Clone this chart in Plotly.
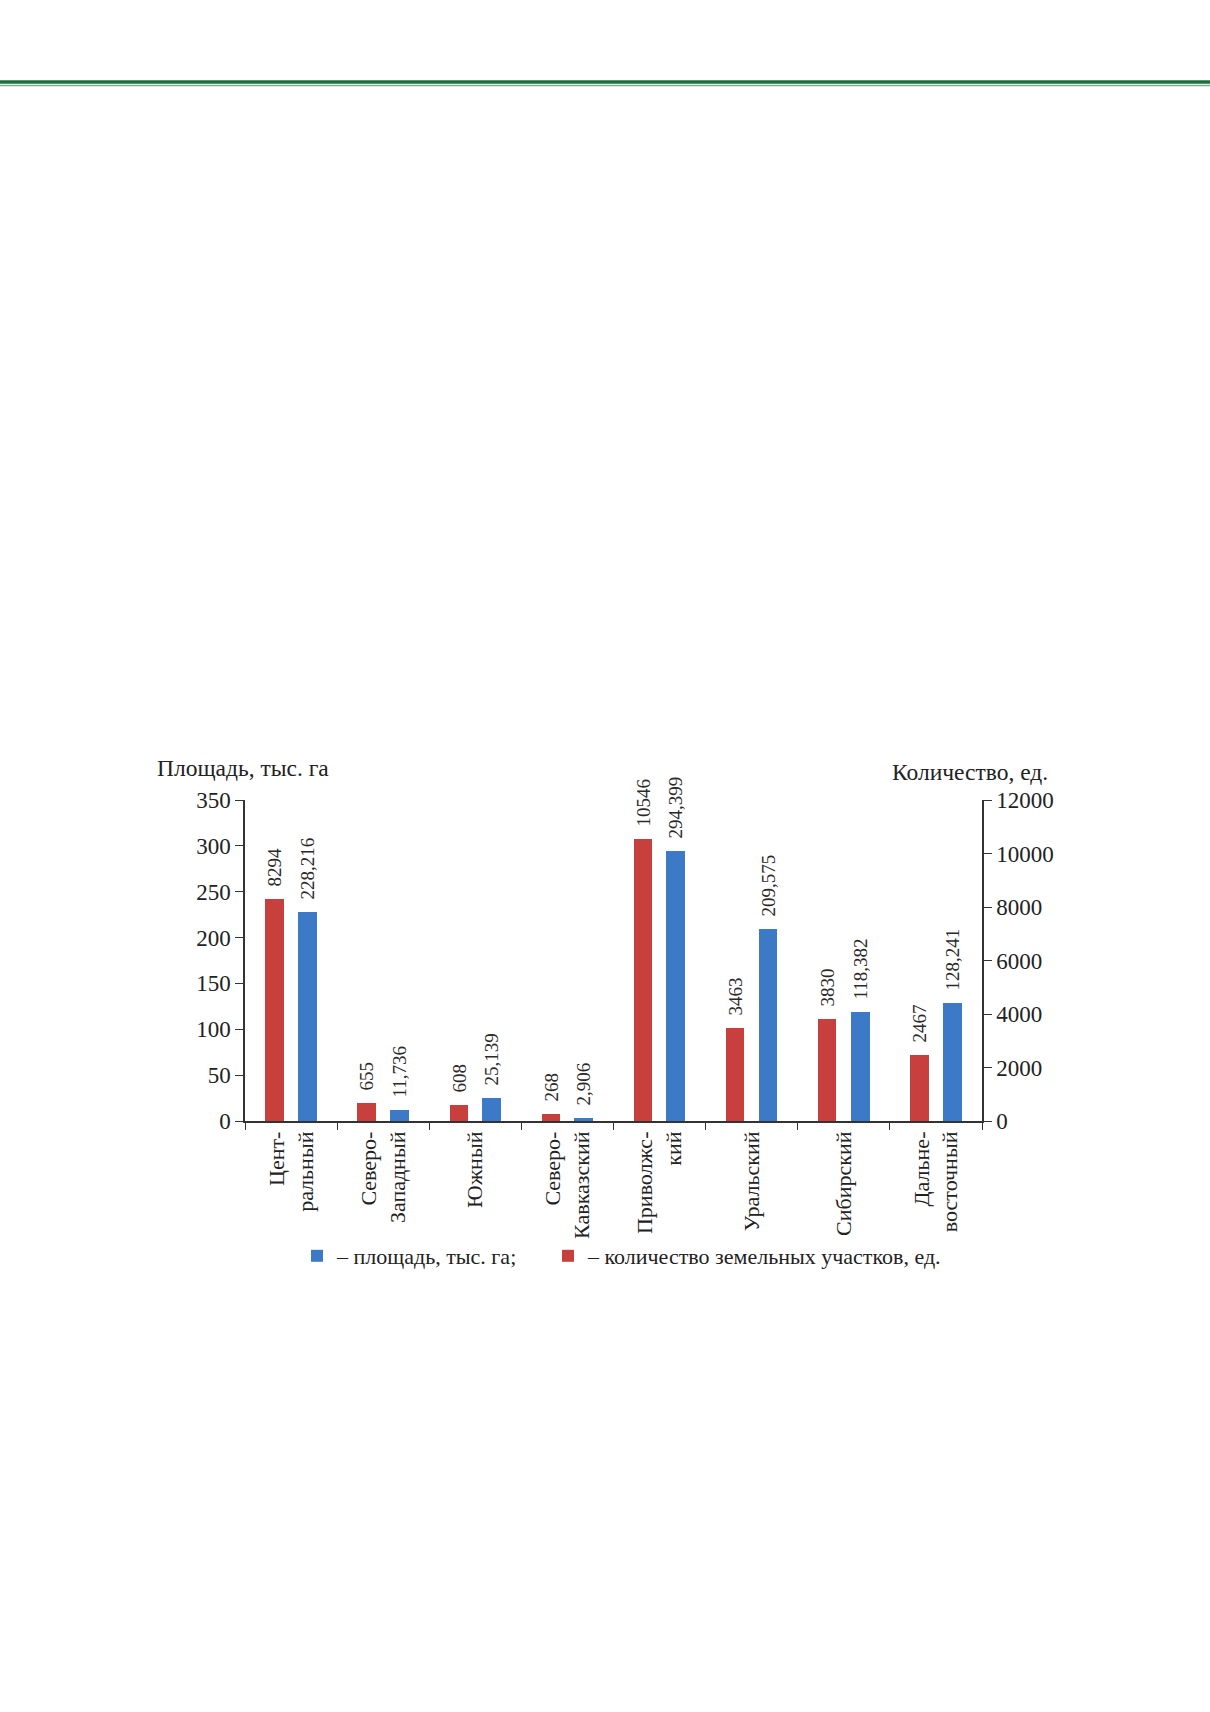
import plotly.graph_objects as go

categories = ["Цент-<br>ральный", "Северо-<br>Западный", "Южный", "Северо-<br>Кавказский",
              "Приволжс-<br>кий", "Уральский", "Сибирский", "Дальне-<br>восточный"]
area_thous_ha = [228.216, 11.736, 25.139, 2.906, 294.399, 209.575, 118.382, 128.241]
plot_count = [8294, 655, 608, 268, 10546, 3463, 3830, 2467]
left_ticks = [0, 50, 100, 150, 200, 250, 300, 350]
right_ticks = [0, 2000, 4000, 6000, 8000, 10000, 12000]

W, H = 1210, 1712
L, R, T, B = 245, 982, 800, 1121


def px_x(x):
    return (x - L) / (R - L)


def px_y(y):
    return (B - y) / (B - T)


FONT = "Liberation Serif, Times New Roman, serif"
RED = "#C8403E"
BLUE = "#3C79C6"
AXC = "#333333"
PAD = "<span style='color:rgba(0,0,0,0)'>0</span>"

area_text = [PAD + f"{v:.3f}".replace(".", ",") for v in area_thous_ha]
count_text = [PAD + str(v) for v in plot_count]

fig = go.Figure()
fig.add_trace(go.Bar(
    x=categories, y=area_thous_ha, name="– площадь, тыс. га;",
    marker=dict(color=BLUE, line=dict(width=0)), width=0.205, offset=0.075,
    text=area_text, textposition="outside", textangle=-90, constraintext="none",
    cliponaxis=False, textfont=dict(family=FONT, size=19, color="#2a2a2a"),
    yaxis="y", legend="legend",
))
fig.add_trace(go.Bar(
    x=categories, y=plot_count, name="– количество земельных участков, ед.",
    marker=dict(color=RED, line=dict(width=0)), width=0.2, offset=-0.28,
    text=count_text, textposition="outside", textangle=-90, constraintext="none",
    cliponaxis=False, textfont=dict(family=FONT, size=19, color="#2a2a2a"),
    yaxis="y2", legend="legend2",
))

legend_common = dict(
    orientation="h", yanchor="top", y=px_y(1235),
    font=dict(family=FONT, size=22, color="#222"), bgcolor="rgba(0,0,0,0)",
    itemclick=False, itemdoubleclick=False, xanchor="left",
)

fig.update_layout(
    width=W, height=H,
    margin=dict(l=L, r=W - R, t=T, b=H - B, autoexpand=False),
    paper_bgcolor="white", plot_bgcolor="white",
    font=dict(family=FONT, size=22, color="#222222"),
    bargap=0.0,
    xaxis=dict(
        type="category", tickson="boundaries", ticks="outside", ticklen=7,
        tickcolor=AXC, tickwidth=1.3, showline=True, linecolor=AXC, linewidth=1.5,
        showgrid=False, tickangle=-90, tickfont=dict(family=FONT, size=22, color="#222"),
        range=[-0.5, 7.5], fixedrange=True,
    ),
    yaxis=dict(
        range=[0, 350], tickvals=left_ticks, ticks="outside", ticklen=8,
        tickcolor=AXC, tickwidth=1.3, showline=True, linecolor=AXC, linewidth=1.5,
        showgrid=False, zeroline=False, tickfont=dict(family=FONT, size=23, color="#222"),
    ),
    yaxis2=dict(
        range=[0, 12000], tickvals=right_ticks, tickformat="d", ticks="outside", ticklen=8,
        tickcolor=AXC, tickwidth=1.3, showline=True, linecolor=AXC, linewidth=1.5,
        showgrid=False, zeroline=False, overlaying="y", side="right",
        tickfont=dict(family=FONT, size=23, color="#222"),
    ),
    showlegend=True,
    legend=dict(x=px_x(297), **legend_common),
    legend2=dict(x=px_x(548), **legend_common),
    annotations=[
        dict(text="Площадь, тыс. га", x=px_x(155), y=px_y(768), xref="paper", yref="paper",
             xanchor="left", yanchor="middle", showarrow=False,
             font=dict(family=FONT, size=23.5, color="#222")),
        dict(text="Количество, ед.", x=px_x(1050), y=px_y(772), xref="paper", yref="paper",
             xanchor="right", yanchor="middle", showarrow=False,
             font=dict(family=FONT, size=23.5, color="#222")),
    ],
    shapes=[
        dict(type="line", xref="paper", yref="paper", x0=px_x(0), x1=px_x(W),
             y0=px_y(82), y1=px_y(82), line=dict(color="#1D7040", width=3.5)),
        dict(type="line", xref="paper", yref="paper", x0=px_x(0), x1=px_x(W),
             y0=px_y(85.6), y1=px_y(85.6), line=dict(color="#79AE8A", width=1.5)),
    ],
)

fig.write_html(
    "out.html",
    config={"displayModeBar": False},
    post_script="document.body.style.margin='0';document.body.style.overflow='hidden';",
)
